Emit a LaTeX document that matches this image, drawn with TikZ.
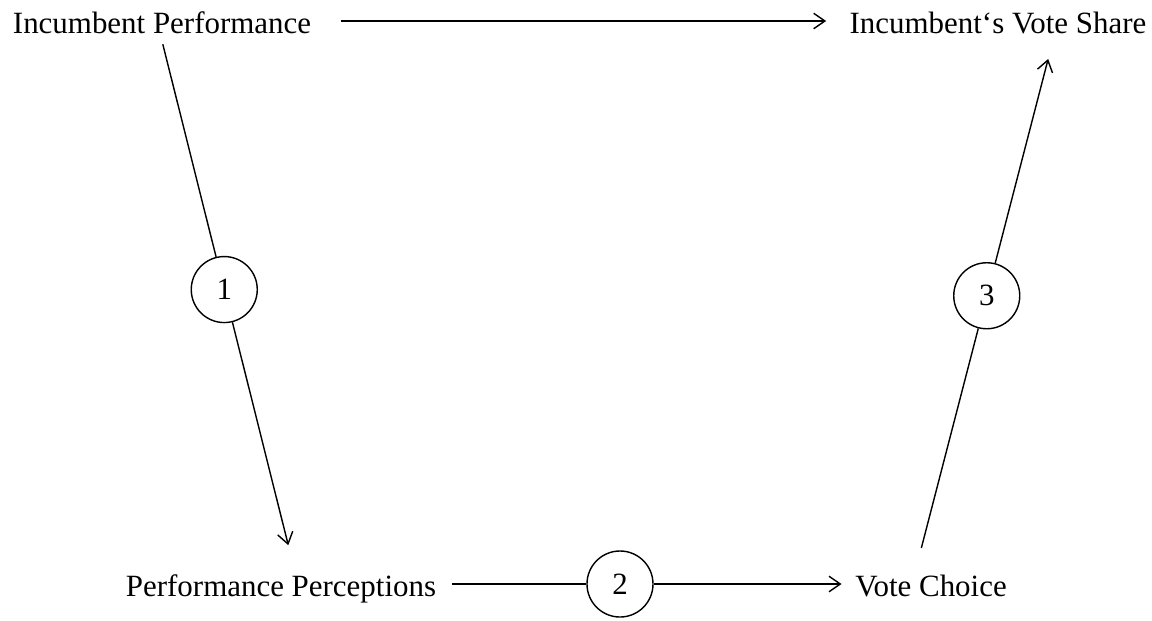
\documentclass[tikz,border=0pt]{standalone}
\usepackage{fontspec}
\setmainfont{Liberation Serif}
\usetikzlibrary{arrows.meta,calc}
\begin{document}
\begin{tikzpicture}[x=0.025cm,y=-0.025cm,line width=1pt,
  >={Straight Barb[length=8pt,width=11pt]},
  label/.style={inner sep=0pt,text height=18pt,text depth=0pt,font=\fontsize{22}{26}\selectfont},
  stage/.style={draw,circle,minimum size=1.65cm,inner sep=0pt,font=\fontsize{22}{26}\selectfont}]
\useasboundingbox (0,0) rectangle (1152,620);
% the four quantities
\node[label] (ip) at (162,21) {Incumbent Performance};
\node[label] (ivs) at (998,21) {Incumbent‘s Vote Share};
\node[label] (pp) at (281,584) {Performance Perceptions};
\node[label] (vc) at (931,584) {Vote Choice};

% direct link
\draw[->,shorten <=0.72cm,shorten >=0.57cm] (ip) -- (ivs);

% step 1
\coordinate (a1) at ($(ip)+(-5,0)$);
\coordinate (b1) at ($(pp)+(17,0)$);
\node[stage] (c1) at ($(a1)!0.477!(b1)$) {1};
\draw[shorten <=0.6cm] (a1) -- (c1);
\draw[->,shorten >=1.0cm] (c1) -- (b1);

% step 2
\node[stage] (c2) at ($(pp)+(339,0)$) {2};
\draw[shorten <=0.375cm] (pp) -- (c2);
\draw[->,shorten >=0.325cm] (c2) -- (vc);

% step 3
\coordinate (a3) at ($(vc)+(-19,0)$);
\coordinate (b3) at ($(ivs)+(60,0)$);
\node[stage] (c3) at ($(a3)!0.512!(b3)$) {3};
\draw[shorten <=0.93cm] (a3) -- (c3);
\draw[->,shorten >=0.98cm] (c3) -- (b3);
\end{tikzpicture}
\end{document}
